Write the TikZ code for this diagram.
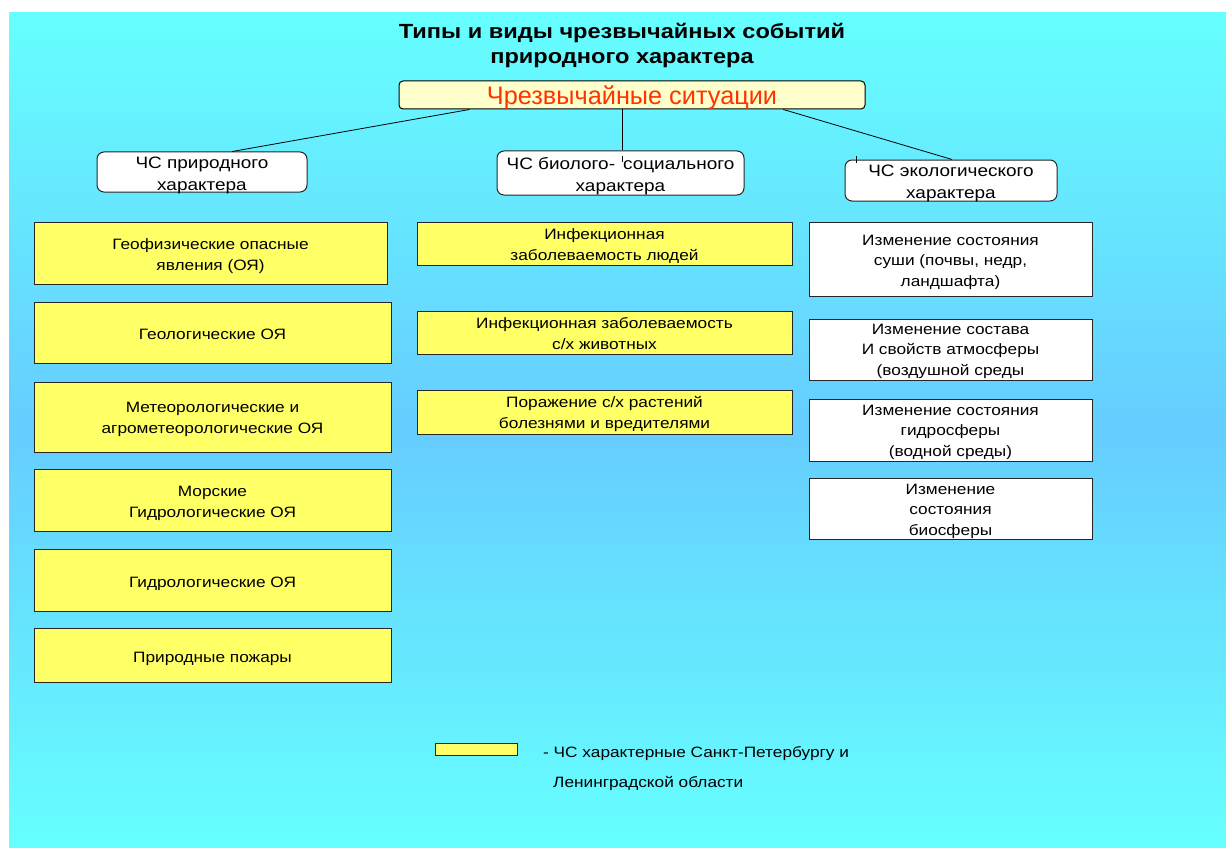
\documentclass[tikz,border=0pt]{standalone}
\usepackage{fontspec}
\setmainfont{Liberation Sans}[FakeStretch=1.15]
\newfontfamily\plainfont{Liberation Sans}
\usetikzlibrary{calc}
\definecolor{cyanA}{HTML}{66FFFF}
\definecolor{cyanB}{HTML}{66CCFF}
\definecolor{yel}{HTML}{FFFF66}
\definecolor{paleyel}{HTML}{FFFFCC}
\definecolor{redtxt}{HTML}{FF3300}
\tikzset{
  boxbase/.style={draw=black!85, line width=1pt, align=center, inner sep=0pt, text depth=0pt},
  ybox/.style={boxbase, fill=yel, font=\fontsize{15}{21}\selectfont},
  mbox/.style={boxbase, fill=yel, font=\fontsize{15}{21}\selectfont},
  wbox/.style={boxbase, fill=white, font=\fontsize{15}{20.5}\selectfont},
  rbox/.style={boxbase, fill=white, rounded corners=7pt, font=\fontsize{16.5}{22}\selectfont},
  conn/.style={draw=black, line width=0.8pt},
}
\begin{document}
\begin{tikzpicture}[x=1pt,y=-1pt]
\useasboundingbox (0,0) rectangle (1226,848);
\fill[white] (0,0) rectangle (1226,848);
% vertical gradient cyan -> light blue -> cyan
\foreach \i in {0,...,99}{
  \pgfmathsetmacro{\pp}{abs(\i-49.5)/49.5*100}
  \pgfmathsetmacro{\ya}{12+\i*8.36}
  \pgfmathsetmacro{\yb}{12+(\i+1)*8.36+0.5}
  \fill[cyanA!\pp!cyanB] (9,\ya) rectangle (1226,\yb);
}

% title
\node[font=\fontsize{20.5}{25}\selectfont\bfseries, align=center, anchor=base] (title) at (622,64)
  {Типы и виды чрезвычайных событий\\природного характера};

% main
\node[boxbase, draw=black, fill=paleyel, rounded corners=4pt, minimum width=466, minimum height=28,
      text height=20pt, text=redtxt, font=\plainfont\fontsize{25.3}{25}\selectfont] (main) at (632,95)
  {Чрезвычайные ситуации};

% level 2
\node[rbox, minimum width=210, minimum height=40, text height=36pt] (n1) at (202,172) {ЧС природного\\характера};
\node[rbox, minimum width=247, minimum height=44, text height=36pt] (n2) at (620.5,173) {ЧС биолого- \,социального\\характера};
\node[rbox, minimum width=212, minimum height=41, text height=35pt] (n3) at (951,180.5) {ЧС экологического\\характера};

\draw[conn] ($(main.south west)!0.152!(main.south east)$) -- ($(n1.north west)!0.643!(n1.north east)$);
\draw[conn] ($(main.south west)!0.479!(main.south east)$) -- (n2.north -| {$(main.south west)!0.479!(main.south east)$});
\draw[conn] ($(main.south west)!0.824!(main.south east)$) -- ($(n3.north west)!0.505!(n3.north east)$);
\draw[line width=0.6pt] ($(n2.north)+(1.5,6)$) -- ++(0,5);
\draw[line width=0.6pt] ($(n3.north west)+(12,-3)$) -- ++(0,6);

% left column
\node[ybox, minimum width=353, minimum height=62, text height=34pt] (g1) at (210.5,253) {Геофизические опасные\\явления (ОЯ)};
\node[ybox, minimum width=357, minimum height=61, text height=13pt] (g2) at (212.5,332.5) {Геологические ОЯ};
\node[ybox, minimum width=357, minimum height=70, text height=32pt] (g3) at (212.5,417) {Метеорологические и\\агрометеорологические ОЯ};
\node[ybox, minimum width=357, minimum height=62, text height=34pt] (g4) at (212.5,500) {Морские\\Гидрологические ОЯ};
\node[ybox, minimum width=357, minimum height=62, text height=14pt] (g5) at (212.5,580) {Гидрологические ОЯ};
\node[ybox, minimum width=357, minimum height=54, text height=14pt] (g6) at (212.5,655) {Природные пожары};

% middle column
\node[mbox, minimum width=375, minimum height=43, text height=33pt] (b1) at (604.5,243.5) {Инфекционная\\заболеваемость людей};
\node[mbox, minimum width=375, minimum height=43, text height=33pt] (b2) at (604.5,332.5) {Инфекционная заболеваемость\\с/х животных};
\node[mbox, minimum width=375, minimum height=44, text height=32pt] (b3) at (604.5,412) {Поражение с/х растений\\болезнями и вредителями};

% right column
\node[wbox, minimum width=283, minimum height=74, text height=54pt] (e1) at (950.5,259) {Изменение состояния\\суши (почвы, недр,\\ландшафта)};
\node[wbox, minimum width=283, minimum height=61, text height=51pt] (e2) at (950.5,349.5) {Изменение состава\\И свойств атмосферы\\(воздушной среды};
\node[wbox, minimum width=283, minimum height=62, text height=52pt] (e3) at (950.5,430) {Изменение состояния\\гидросферы\\(водной среды)};
\node[wbox, minimum width=283, minimum height=61, text height=53pt] (e4) at (950.5,508.5) {Изменение\\состояния\\биосферы};

% legend
\node[boxbase, fill=yel, minimum width=82, minimum height=12] (lg) at (476,749) {};
\node[font=\fontsize{15}{18}\selectfont, anchor=base west, inner sep=0pt] (lt1) at (543,757) {- ЧС характерные Санкт-Петербургу и};
\node[font=\fontsize{15}{18}\selectfont, anchor=base west, inner sep=0pt] (lt2) at (553,787) {Ленинградской области};
\end{tikzpicture}
\end{document}
